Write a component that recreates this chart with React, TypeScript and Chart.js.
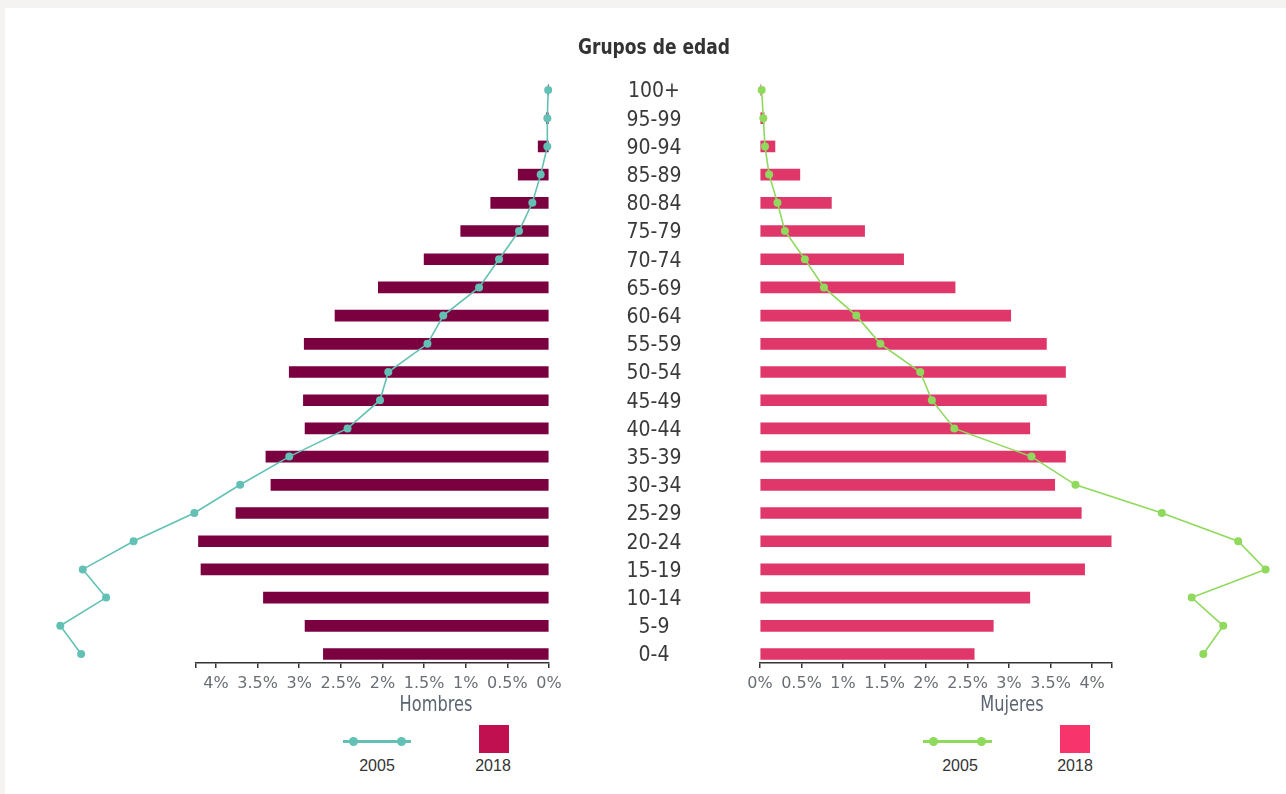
import React, { useEffect, useRef } from 'react';
import { Chart, registerables } from 'chart.js';

Chart.register(...registerables);

const ageGroups = ['100+', '95-99', '90-94', '85-89', '80-84', '75-79', '70-74', '65-69', '60-64', '55-59', '50-54', '45-49', '40-44', '35-39', '30-34', '25-29', '20-24', '15-19', '10-14', '5-9', '0-4'];
const male2018 = [0.01, 0.03, 0.13, 0.37, 0.70, 1.06, 1.50, 2.05, 2.57, 2.94, 3.12, 2.95, 2.93, 3.40, 3.34, 3.76, 4.21, 4.18, 3.43, 2.93, 2.71];
const male2005 = [0.01, 0.02, 0.02, 0.10, 0.20, 0.36, 0.60, 0.84, 1.27, 1.46, 1.93, 2.03, 2.42, 3.12, 3.71, 4.26, 4.99, 5.60, 5.32, 5.87, 5.62];
const female2018 = [0.01, 0.05, 0.18, 0.48, 0.86, 1.26, 1.73, 2.35, 3.02, 3.45, 3.68, 3.45, 3.25, 3.68, 3.55, 3.87, 4.23, 3.91, 3.25, 2.81, 2.58];
const female2005 = [0.02, 0.04, 0.06, 0.11, 0.21, 0.30, 0.54, 0.77, 1.16, 1.45, 1.93, 2.07, 2.34, 3.27, 3.80, 4.84, 5.76, 6.09, 5.20, 5.58, 5.34];
const axisTicks = [0, 0.5, 1, 1.5, 2, 2.5, 3, 3.5, 4];
const axisMax = 4.24;
const legendYears = ['2005', '2018'];

const C = {
  male2018: '#7a0040',
  male2005: '#62c1b4',
  female2018: '#e0376b',
  female2005: '#8fd95d',
  maleSwatch: '#c0104f',
  femaleSwatch: '#f7356c',
};

const LABEL_FONT = "'DejaVu Sans Condensed', 'DejaVu Sans', sans-serif";
const TICK_FONT = "'DejaVu Sans', sans-serif";
const LABEL_SIZE = 21;

// shared geometry
const AREA_TOP = 73.1;
const AREA_BOTTOM = 663;
const CANVAS_H = 720;
const X_AXIS_H = 40;
const Y_MIN = -0.6;
const Y_MAX = 20.319;

const expandArea = {
  id: 'expandArea',
  beforeDatasetsDraw(chart: any) {
    chart.$savedArea = { ...chart.chartArea };
    Object.assign(chart.chartArea, { left: 0, top: 0, right: chart.width, bottom: chart.height, width: chart.width, height: chart.height });
  },
  afterDatasetsDraw(chart: any) {
    if (chart.$savedArea) Object.assign(chart.chartArea, chart.$savedArea);
  },
};

function xScale(reverse: boolean) {
  return {
    type: 'linear',
    position: 'bottom',
    reverse,
    min: 0,
    max: axisMax,
    afterBuildTicks: (s: any) => {
      s.ticks = [...axisTicks, axisMax].map((v) => ({ value: v }));
    },
    afterFit: (s: any) => {
      s.height = X_AXIS_H;
    },
    ticks: {
      autoSkip: false,
      maxRotation: 0,
      minRotation: 0,
      padding: 6,
      color: '#6a6f75',
      font: { family: TICK_FONT, size: 16 },
      callback: (v: number) => (axisTicks.includes(v) ? `${v}%` : ''),
    },
    grid: {
      drawOnChartArea: false,
      drawTicks: true,
      tickLength: 5,
      color: '#333',
      lineWidth: 1.5,
    },
    border: { display: true, color: '#333', width: 1.5 },
  };
}

function datasets(bars: number[], line: number[], barColor: string, lineColor: string) {
  return [
    {
      type: 'line',
      label: legendYears[0],
      data: line.map((v, i) => ({ x: v, y: i })),
      borderColor: lineColor,
      backgroundColor: lineColor,
      borderWidth: 1.6,
      pointRadius: 4,
      pointBorderWidth: 0,
      pointBackgroundColor: lineColor,
      tension: 0,
      clip: false,
      order: 0,
    },
    {
      type: 'bar',
      label: legendYears[1],
      data: bars.map((v, i) => ({ x: v, y: i })),
      backgroundColor: barColor,
      barThickness: 11,
      clip: false,
      order: 1,
    },
  ];
}

function measureWidest(): number {
  const c = document.createElement('canvas');
  const ctx = c.getContext('2d')!;
  ctx.font = `normal ${LABEL_SIZE}px ${LABEL_FONT}`;
  return Math.max(...ageGroups.map((a) => ctx.measureText(a).width));
}

export default function App() {
  const leftRef = useRef<HTMLCanvasElement>(null);
  const rightRef = useRef<HTMLCanvasElement>(null);

  useEffect(() => {
    const widest = measureWidest();
    const labelCenter = 654;
    const chartRight = 549;
    const pad = labelCenter - chartRight - widest / 2;

    const left = new Chart(leftRef.current!, {
      type: 'bar',
      data: { labels: ageGroups, datasets: datasets(male2018, male2005, C.male2018, C.male2005) as any },
      options: {
        animation: false,
        responsive: false,
        indexAxis: 'y',
        layout: { padding: { left: 196, top: AREA_TOP, right: 0, bottom: CANVAS_H - AREA_BOTTOM - X_AXIS_H } },
        plugins: { legend: { display: false }, tooltip: { enabled: false }, title: { display: false } },
        scales: {
          x: xScale(true) as any,
          y: {
            type: 'linear',
            position: 'right',
            reverse: true,
            offset: false,
            min: Y_MIN,
            max: Y_MAX,
            afterBuildTicks: (s: any) => {
              s.ticks = ageGroups.map((_, i) => ({ value: i }));
            },
            afterFit: (s: any) => {
              s.width = 740 - chartRight;
              s.paddingTop = 0;
              s.paddingBottom = 0;
            },
            ticks: {
              autoSkip: false,
              crossAlign: 'center',
              padding: pad,
              labelOffset: 2,
              color: '#3a3a3a',
              font: { family: LABEL_FONT, size: LABEL_SIZE },
              callback: (v: number) => ageGroups[v] ?? '',
            },
            grid: { display: false, drawTicks: false },
            border: { display: false },
          } as any,
        },
      },
      plugins: [expandArea],
    });

    const right = new Chart(rightRef.current!, {
      type: 'bar',
      data: { labels: ageGroups, datasets: datasets(female2018, female2005, C.female2018, C.female2005) as any },
      options: {
        animation: false,
        responsive: false,
        indexAxis: 'y',
        layout: { padding: { left: 20, top: AREA_TOP, right: 546 - (1112 - 740), bottom: CANVAS_H - AREA_BOTTOM - X_AXIS_H } },
        plugins: { legend: { display: false }, tooltip: { enabled: false }, title: { display: false } },
        scales: {
          x: xScale(false) as any,
          y: {
            type: 'linear',
            display: false,
            reverse: true,
            offset: false,
            min: Y_MIN,
            max: Y_MAX,
          } as any,
        },
      },
      plugins: [expandArea],
    });

    return () => {
      left.destroy();
      right.destroy();
    };
  }, []);

  const abs = (s: React.CSSProperties): React.CSSProperties => ({ position: 'absolute', ...s });
  const textCenter = (cx: number, top: number, text: string, style: React.CSSProperties) => (
    <div style={abs({ left: cx - 100, width: 200, top, textAlign: 'center', whiteSpace: 'nowrap', ...style })}>{text}</div>
  );
  const legendLine = (x1: number, x2: number, d1: number, d2: number, color: string) => (
    <>
      <div style={abs({ left: x1, top: 739.5, width: x2 - x1, height: 3, background: color })} />
      <div style={abs({ left: d1 - 4.5, top: 736.5, width: 9, height: 9, borderRadius: '50%', background: color })} />
      <div style={abs({ left: d2 - 4.5, top: 736.5, width: 9, height: 9, borderRadius: '50%', background: color })} />
    </>
  );
  const legendText: React.CSSProperties = { fontFamily: "'Liberation Sans', Arial, sans-serif", fontSize: 16, lineHeight: '16px', color: '#333' };
  const axisTitle: React.CSSProperties = {
    fontFamily: LABEL_FONT,
    fontSize: 18,
    lineHeight: '18px',
    color: '#5b6571',
    transform: 'scaleY(1.2)',
    transformOrigin: 'center bottom',
  };

  return (
    <div style={abs({ left: 0, top: 0, width: 1286, height: 794, background: '#f4f3f1', overflow: 'hidden' })}>
      <div style={abs({ left: 5, top: 8, width: 1281, height: 786, background: '#ffffff' })} />
      <canvas ref={leftRef} width={740} height={CANVAS_H} style={abs({ left: 0, top: 0, width: 740, height: CANVAS_H })} />
      <canvas ref={rightRef} width={546} height={CANVAS_H} style={abs({ left: 740, top: 0, width: 546, height: CANVAS_H })} />
      {textCenter(654, 38, 'Grupos de edad', {
        fontFamily: LABEL_FONT,
        fontWeight: 'bold',
        fontSize: 19,
        lineHeight: '19px',
        color: '#333',
        transform: 'scaleY(1.15)',
        transformOrigin: 'center bottom',
      })}
      {textCenter(436, 697, 'Hombres', axisTitle)}
      {textCenter(1012, 697, 'Mujeres', axisTitle)}
      {legendLine(343, 411, 353, 401, C.male2005)}
      <div style={abs({ left: 479, top: 725, width: 30, height: 28, background: C.maleSwatch })} />
      {textCenter(377, 757.5, legendYears[0], legendText)}
      {textCenter(493, 757.5, legendYears[1], legendText)}
      {legendLine(923, 992, 933, 981, C.female2005)}
      <div style={abs({ left: 1060, top: 725, width: 30, height: 28, background: C.femaleSwatch })} />
      {textCenter(960, 757.5, legendYears[0], legendText)}
      {textCenter(1075, 757.5, legendYears[1], legendText)}
    </div>
  );
}
